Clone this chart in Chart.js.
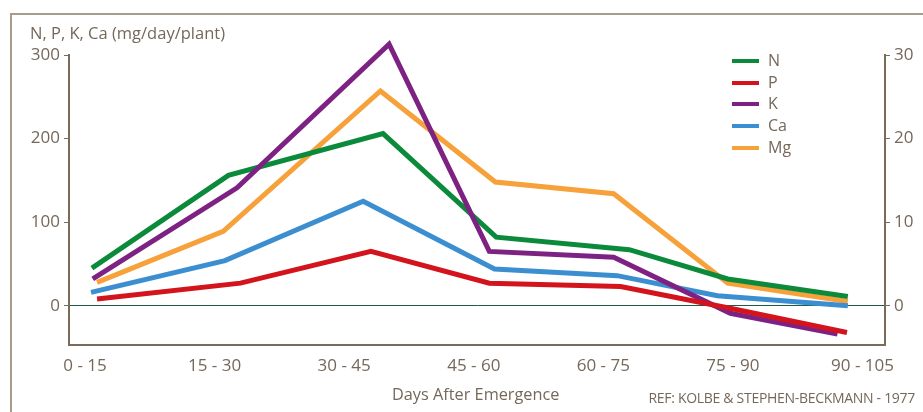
<!DOCTYPE html>
<html>
<head>
<meta charset="utf-8">
<script src="https://cdn.jsdelivr.net/npm/chart.js@4.4.1/dist/chart.umd.min.js"></script>
<style>
  html, body { margin: 0; padding: 0; background: #fff; }
  body { width: 923px; height: 412px; position: relative; overflow: hidden; font-family: "Open Sans", sans-serif; color: #75685a; }
  .frame { position: absolute; left: 10px; top: 13px; width: 950px; height: 450px; border-left: 2px solid #a89b8d; border-top: 2px solid #a89b8d; }
  #wrap { position: absolute; left: 0; top: 0; width: 923px; height: 412px; }
  .ytitle { position: absolute; left: 30px; top: 21px; font-size: 16.5px; }
  .xtitle { position: absolute; left: 392px; top: 383px; font-size: 16.3px; }
  .ref { position: absolute; right: 8px; top: 388px; font-size: 14px; letter-spacing: -0.3px; }
  #legend { position: absolute; left: 732px; top: 50px; font-size: 16px; }
  #legend div { height: 21.7px; line-height: 21.7px; position: relative; padding-left: 36px; }
  #legend span { position: absolute; left: 0; top: 9px; width: 27px; height: 4px; }
</style>
</head>
<body>
<div class="frame"></div>
<div id="wrap"><canvas id="chart" width="923" height="412"></canvas></div>
<div class="ytitle">N, P, K, Ca (mg/day/plant)</div>
<div class="xtitle">Days After Emergence</div>
<div class="ref">REF: KOLBE &amp; STEPHEN-BECKMANN - 1977</div>
<div id="legend"></div>
<script>
// periods (days after emergence), labelled at their midpoints
const periods = ["0 - 15", "15 - 30", "30 - 45", "45 - 60", "60 - 75", "75 - 90", "90 - 105"];
const periodMid = [7.5, 22.5, 37.5, 52.5, 67.5, 82.5, 97.5];

// day at which each point sits in the source figure
const nDays  = [8.3, 24.1, 42.0, 55.1, 70.5, 81.9, 95.8];
const pDays  = [8.9, 25.5, 40.6, 54.3, 69.5, 82.6, 95.7];
const kDays  = [8.4, 25.1, 42.7, 54.3, 68.7, 82.2, 94.6];
const caDays = [8.2, 23.7, 39.7, 54.9, 69.1, 80.7, 95.8];
const mgDays = [8.9, 23.5, 41.7, 55.0, 68.7, 81.9, 95.8];

// mg/day/plant, left axis
const nVals  = [45, 156, 206, 82, 67, 32, 11];
const pVals  = [8, 27, 65, 27, 23, -4, -32];
const kVals  = [32, 141, 313, 65, 58, -9, -34];
const caVals = [16, 54, 125, 44, 36, 12, 0];
// Mg on the right axis
const mgVals = [2.8, 8.9, 25.7, 14.8, 13.4, 2.7, 0.5];

const leftTicks = [0, 100, 200, 300];
const rightTicks = [0, 10, 20, 30];

const series = [
  { label: "N", days: nDays, data: nVals, color: "#0b8a3b", axis: "y" },
  { label: "P", days: pDays, data: pVals, color: "#d3141c", axis: "y" },
  { label: "K", days: kDays, data: kVals, color: "#7d2283", axis: "y" },
  { label: "Ca", days: caDays, data: caVals, color: "#3b8fd1", axis: "y" },
  { label: "Mg", days: mgDays, data: mgVals, color: "#f7a13b", axis: "y1" },
];

const txt = "#75685a";
const axisCol = "#7a6a5a";

// legend
const legend = document.getElementById("legend");
legend.innerHTML = series
  .map((s) => `<div><span style="background:${s.color}"></span>${s.label}</div>`)
  .join("");

// draw order: Mg and Ca under, then N, K, P on top
const order = { Mg: 5, Ca: 4, N: 3, K: 2, P: 1 };

new Chart(document.getElementById("chart").getContext("2d"), {
  type: "line",
  data: {
    datasets: series.map((s) => ({
      label: s.label,
      data: s.data.map((v, i) => ({ x: s.days[i], y: v })),
      borderColor: s.color,
      backgroundColor: s.color,
      borderWidth: 5,
      pointRadius: 0,
      tension: 0,
      yAxisID: s.axis,
      clip: false,
      order: order[s.label],
    })),
  },
  options: {
    responsive: false,
    animation: false,
    layout: { padding: { top: 55, left: 0, right: 0, bottom: 0 } },
    plugins: { legend: { display: false }, tooltip: { enabled: false } },
    scales: {
      x: {
        type: "linear",
        min: 5.65,
        max: 100.1,
        afterBuildTicks: (sc) => { sc.ticks = periodMid.map((v) => ({ value: v })); },
        afterFit: (sc) => { sc.height = 67; },
        ticks: {
          callback: (v) => periods[periodMid.indexOf(v)] ?? "",
          color: txt,
          font: { family: "Open Sans", size: 17 },
          padding: 11,
          maxRotation: 0,
          autoSkip: false,
        },
        grid: { drawOnChartArea: false, drawTicks: false },
        border: { color: axisCol, width: 2 },
      },
      y: {
        position: "left",
        min: -47,
        max: 300,
        afterBuildTicks: (sc) => { sc.ticks = leftTicks.map((v) => ({ value: v })); },
        afterFit: (sc) => { sc.width = 69; },
        ticks: { color: txt, font: { family: "Open Sans", size: 17 }, padding: 4 },
        grid: {
          color: (c) => (c.tick && c.tick.value === 0 ? "#1d5a48" : "rgba(0,0,0,0)"),
          lineWidth: 1,
          tickColor: axisCol,
          tickLength: 5,
        },
        border: { color: axisCol, width: 2 },
      },
      y1: {
        position: "right",
        min: -4.7,
        max: 30,
        afterBuildTicks: (sc) => { sc.ticks = rightTicks.map((v) => ({ value: v })); },
        afterFit: (sc) => { sc.width = 38; },
        ticks: { color: txt, font: { family: "Open Sans", size: 17 }, padding: 4 },
        grid: { drawOnChartArea: false, tickColor: axisCol, tickLength: 5 },
        border: { color: axisCol, width: 2 },
      },
    },
  },
});
</script>
</body>
</html>
